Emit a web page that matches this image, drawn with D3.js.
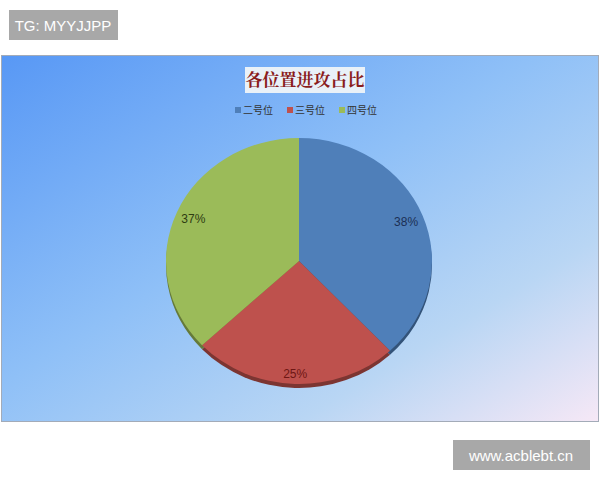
<!DOCTYPE html>
<html>
<head>
<meta charset="utf-8">
<script src="https://cdn.jsdelivr.net/npm/d3@7"></script>
<style>
  body { margin: 0; background: #fff; }
  svg { display: block; }
</style>
</head>
<body>
<div id="chart"></div>
<script>
// Chart data
const categories = ['二号位', '三号位', '四号位'];
const shares = [38, 25, 37];
const colors = ['#4f7fb9', '#be514d', '#9bbb59'];
const labelColors = ['#1c2f55', '#6e1714', '#2f3c12'];
const title = '各位置进攻占比';

const width = 600;
const height = 480;

const svg = d3.select('#chart')
  .append('svg')
  .attr('width', width)
  .attr('height', height);

// Background gradient for the chart panel
const defs = svg.append('defs');
const grad = defs.append('linearGradient')
  .attr('id', 'bg')
  .attr('x1', 0).attr('y1', 0)
  .attr('x2', 1).attr('y2', 1);
grad.append('stop').attr('offset', '0%').attr('stop-color', '#5898f5');
grad.append('stop').attr('offset', '45%').attr('stop-color', '#8fc0f7');
grad.append('stop').attr('offset', '75%').attr('stop-color', '#b9d6f4');
grad.append('stop').attr('offset', '100%').attr('stop-color', '#f6e8f6');

svg.append('rect')
  .attr('x', 1.5).attr('y', 55.5)
  .attr('width', 597).attr('height', 366)
  .attr('fill', 'url(#bg)')
  .attr('stroke', '#a3abb8');

// Watermarks
svg.append('rect').attr('x', 9).attr('y', 10).attr('width', 109).attr('height', 30).attr('fill', '#a8a8a8');
svg.append('text').attr('x', 63).attr('y', 31).attr('text-anchor', 'middle')
  .attr('font-family', 'Liberation Sans, Arial, sans-serif').attr('font-size', 15)
  .attr('fill', '#fff').text('TG: MYYJJPP');
svg.append('rect').attr('x', 453).attr('y', 440).attr('width', 137).attr('height', 30).attr('fill', '#a8a8a8');
svg.append('text').attr('x', 521).attr('y', 461).attr('text-anchor', 'middle')
  .attr('font-family', 'Liberation Sans, Arial, sans-serif').attr('font-size', 15)
  .attr('fill', '#fff').text('www.acblebt.cn');

// Title box
svg.append('rect').attr('x', 245).attr('y', 67).attr('width', 120).attr('height', 26)
  .attr('fill', '#e9f1f8');
svg.append('text').attr('x', 305).attr('y', 86).attr('text-anchor', 'middle')
  .attr('font-family', '"Noto Serif CJK SC", "Noto Sans CJK SC", sans-serif')
  .attr('font-weight', 'bold').attr('font-size', 17)
  .attr('fill', '#8a1c1c').text(title);

// Legend
const legendX = [236, 288, 340];
const legend = svg.append('g').selectAll('g')
  .data(categories)
  .join('g')
  .attr('transform', (d, i) => `translate(${legendX[i]},110)`);
legend.append('rect').attr('x', -1).attr('y', -3).attr('width', 6).attr('height', 6)
  .attr('fill', (d, i) => colors[i]);
legend.append('text').attr('x', 7).attr('y', 3.5)
  .attr('font-family', '"Noto Sans CJK SC", sans-serif').attr('font-size', 10)
  .attr('fill', '#333').text(d => d);

// Pie (slightly squashed to look tilted)
const cx = 299, cy = 261, r = 133, squash = 0.925;
const pie = d3.pie().sort(null).value(d => d);
const arcs = pie(shares);
const arc = d3.arc().innerRadius(0).outerRadius(r);

// 3D rim under the pie
const rim = svg.append('g').attr('transform', `translate(${cx},${cy + 4}) scale(1,${squash})`);
rim.selectAll('path')
  .data(arcs)
  .join('path')
  .attr('d', arc)
  .attr('fill', (d, i) => d3.color(colors[i]).darker(1.2));

const g = svg.append('g').attr('transform', `translate(${cx},${cy}) scale(1,${squash})`);
g.selectAll('path')
  .data(arcs)
  .join('path')
  .attr('d', arc)
  .attr('fill', (d, i) => colors[i]);

// Percentage labels, placed inside the slice end
const labelW = 24, labelH = 11, inset = 4.5;
function labelPos(d) {
  const a = (d.startAngle + d.endAngle) / 2;
  const s = Math.sin(a), c = Math.cos(a);
  const ex = r * s, ey = -r * squash * c;
  const len = Math.hypot(ex, ey);
  const off = inset + Math.abs(s) * labelW / 2 + Math.abs(c) * labelH / 2;
  return [cx + ex - ex / len * off, cy + ey - ey / len * off];
}
svg.append('g').selectAll('text')
  .data(arcs)
  .join('text')
  .attr('x', d => labelPos(d)[0])
  .attr('y', d => labelPos(d)[1])
  .attr('dy', '0.35em')
  .attr('text-anchor', 'middle')
  .attr('font-family', 'Liberation Sans, Arial, sans-serif')
  .attr('font-size', 12)
  .attr('fill', (d, i) => labelColors[i])
  .text(d => d.data + '%');
</script>
</body>
</html>
